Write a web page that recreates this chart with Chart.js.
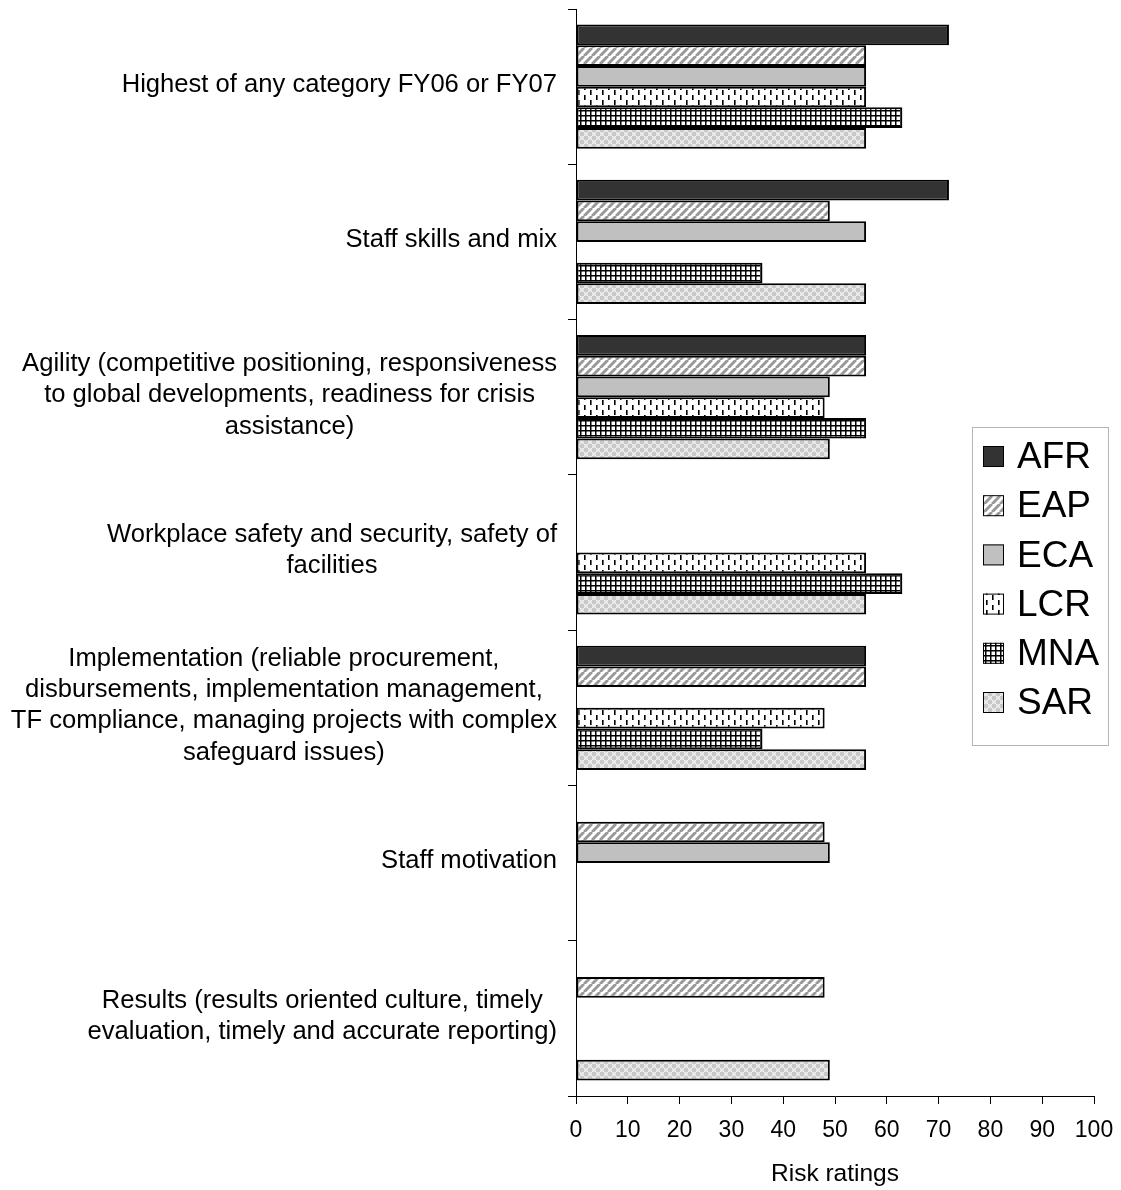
<!DOCTYPE html>
<html>
<head>
<meta charset="utf-8">
<script src="https://cdn.jsdelivr.net/npm/chart.js@4.4.1/dist/chart.umd.min.js"></script>
<style>
html, body { margin: 0; padding: 0; background: #fff; }
#caja { width: 1121px; height: 1190px; }
</style>
</head>
<body>
<div id="caja"><canvas id="myChart" width="1121" height="1190"></canvas></div>
<script>
// Categorias (cada una partida en lineas como en el original)
const categorias = [
  ["Highest of any category FY06 or FY07"],
  ["Staff skills and mix"],
  ["Agility (competitive positioning, responsiveness", "to global developments, readiness for crisis", "assistance)"],
  ["Workplace safety and security, safety of", "facilities"],
  ["Implementation (reliable procurement,", "disbursements, implementation management,", "TF compliance, managing projects with complex", "safeguard issues)"],
  ["Staff motivation"],
  ["Results (results oriented culture, timely", "evaluation, timely and accurate reporting)"]
];
const regiones = ["AFR", "EAP", "ECA", "LCR", "MNA", "SAR"];

// Valores por region (null = sin barra)
const AFR = [72, 72, 56, null, 56, null, null];
const EAP = [56, 49, 56, null, 56, 48, 48];
const ECA = [56, 56, 49, null, null, 49, null];
const LCR = [56, null, 48, 56, 48, null, null];
const MNA = [63, 36, 56, 63, 36, null, null];
const SAR = [56, 56, 49, 56, 56, null, 49];

const ejeMin = 0;
const ejeMax = 100;
const ejePaso = 10;
const tituloX = "Risk ratings";

const fuente = "'Liberation Sans', Arial, sans-serif";

// Tramas de relleno
function crearTrama(tipo) {
  const c = document.createElement("canvas");
  const g = c.getContext("2d");
  if (tipo === "AFR") {
    c.width = 4; c.height = 4;
    g.fillStyle = "#333333"; g.fillRect(0, 0, 4, 4);
  } else if (tipo === "EAP") {
    c.width = 8; c.height = 8;
    g.fillStyle = "#ffffff"; g.fillRect(0, 0, 8, 8);
    g.strokeStyle = "#999999"; g.lineWidth = 3;
    for (let k = -8; k <= 16; k += 8) {
      g.beginPath(); g.moveTo(k, 8); g.lineTo(k + 8, 0); g.stroke();
    }
  } else if (tipo === "ECA") {
    c.width = 4; c.height = 4;
    g.fillStyle = "#c0c0c0"; g.fillRect(0, 0, 4, 4);
  } else if (tipo === "LCR") {
    c.width = 12; c.height = 10;
    g.fillStyle = "#ffffff"; g.fillRect(0, 0, 12, 10);
    g.fillStyle = "#000000";
    g.fillRect(2, 0, 1.6, 5);
    g.fillRect(8, 5, 1.6, 5);
  } else if (tipo === "MNA") {
    c.width = 5; c.height = 5;
    g.fillStyle = "#ffffff"; g.fillRect(0, 0, 5, 5);
    g.fillStyle = "#000000";
    g.fillRect(0, 0, 5, 1.5);
    g.fillRect(0, 0, 1.5, 5);
  } else {
    c.width = 8; c.height = 8;
    g.fillStyle = "#f6f6f6"; g.fillRect(0, 0, 8, 8);
    g.fillStyle = "#c8c8c8";
    g.fillRect(0, 0, 4, 4);
    g.fillRect(4, 4, 4, 4);
    g.strokeStyle = "#d4d4d4"; g.lineWidth = 0.8;
    g.beginPath(); g.arc(6, 2, 1.5, 0, Math.PI * 2); g.stroke();
    g.beginPath(); g.arc(2, 6, 1.5, 0, Math.PI * 2); g.stroke();
  }
  return g.createPattern(c, "repeat");
}

const valores = [AFR, EAP, ECA, LCR, MNA, SAR];

// Etiquetas del eje Y: bloque alineado a la derecha, lineas centradas
const etiquetasY = {
  id: "etiquetasY",
  afterDraw(chart) {
    const ctx = chart.ctx;
    const escala = chart.scales.y;
    const derecha = chart.chartArea.left - 19;
    const alto = 31.3;
    ctx.save();
    ctx.font = "25.6px " + fuente;
    ctx.fillStyle = "#000";
    ctx.textAlign = "center";
    ctx.textBaseline = "middle";
    categorias.forEach((lineas, i) => {
      const yc = escala.getPixelForValue(i) - 2;
      let ancho = 0;
      lineas.forEach(l => { ancho = Math.max(ancho, ctx.measureText(l).width); });
      const xc = derecha - ancho / 2;
      const y0 = yc - (lineas.length - 1) * alto / 2;
      lineas.forEach((l, j) => ctx.fillText(l, xc, y0 + j * alto));
    });
    ctx.restore();
  }
};

// Leyenda con recuadro, encima del area del grafico
const leyenda = {
  id: "leyenda",
  afterDraw(chart) {
    const ctx = chart.ctx;
    const area = chart.chartArea;
    const x0 = area.right - 122;
    const y0 = 427;
    const ancho = 136;
    const alto = 318;
    ctx.save();
    ctx.fillStyle = "#ffffff";
    ctx.fillRect(x0, y0, ancho, alto);
    ctx.strokeStyle = "#b4b4b4";
    ctx.lineWidth = 1;
    ctx.strokeRect(x0 + 0.5, y0 + 0.5, ancho, alto);
    ctx.font = "37px " + fuente;
    ctx.textBaseline = "middle";
    ctx.textAlign = "left";
    chart.data.datasets.forEach((ds, i) => {
      const yc = y0 + 30 + i * 49.2;
      ctx.fillStyle = ds.backgroundColor;
      ctx.fillRect(x0 + 11, yc - 11, 21, 21);
      ctx.strokeStyle = "#000";
      ctx.lineWidth = 1;
      ctx.strokeRect(x0 + 11.5, yc - 10.5, 20, 20);
      ctx.fillStyle = "#000";
      ctx.fillText(ds.label, x0 + 45, yc + 1);
    });
    ctx.restore();
  }
};

Chart.defaults.font.family = fuente;
Chart.defaults.color = "#000";

const ctx = document.getElementById("myChart").getContext("2d");
const myChart = new Chart(ctx, {
  type: "bar",
  data: {
    labels: categorias.map(c => c.join(" ")),
    datasets: regiones.map((r, i) => ({
      label: r,
      data: valores[i],
      backgroundColor: crearTrama(r),
      borderColor: "#000",
      borderWidth: 2,
      borderSkipped: false,
      categoryPercentage: 0.8,
      barPercentage: 1.0
    }))
  },
  options: {
    indexAxis: "y",
    responsive: false,
    animation: false,
    layout: { padding: { top: 9, right: 27, left: 0, bottom: 0 } },
    plugins: {
      legend: { display: false },
      tooltip: { enabled: false }
    },
    scales: {
      x: {
        min: ejeMin,
        max: ejeMax,
        ticks: { stepSize: ejePaso, font: { size: 23 }, padding: 13, maxRotation: 0 },
        grid: { drawOnChartArea: false, tickLength: 8, color: "#000" },
        border: { color: "#000", width: 1 },
        title: { display: true, text: tituloX, font: { size: 24.5 }, padding: { top: 2, bottom: 1 } },
        afterFit(escala) { escala.paddingRight = 0; escala.paddingLeft = 0; }
      },
      y: {
        ticks: { display: false },
        grid: { drawOnChartArea: false, tickLength: 8, color: "#000", offset: true },
        border: { color: "#000", width: 1 },
        afterFit(escala) { escala.width = 576; }
      }
    }
  },
  plugins: [etiquetasY, leyenda]
});
</script>
</body>
</html>
